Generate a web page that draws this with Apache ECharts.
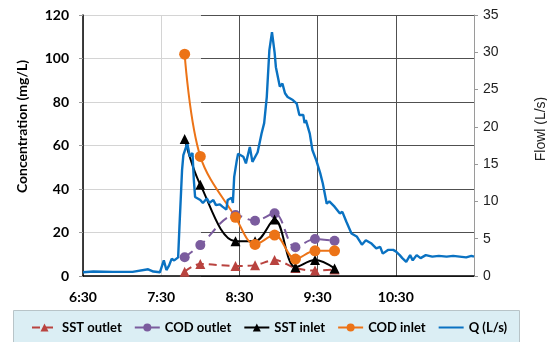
<!DOCTYPE html>
<html><head><meta charset="utf-8">
<script src="https://cdn.jsdelivr.net/npm/echarts@6/dist/echarts.min.js"></script>
<style>html,body{margin:0;padding:0;background:#fff}#c{width:547px;height:342px}</style>
</head><body><div id="c"></div>
<script>
// ---- data ----
const xTickLabels = ['6:30','7:30','8:30','9:30','10:30'];
const concTimes = ['7:48','8:00','8:27','8:42','8:57','9:13','9:28','9:43'];
const sstOutlet = [2, 5.5, 4.6, 5, 7.3, 3.7, 2.5, 3];
const codOutlet = [8.6, 14.2, 28, 25.4, 28.8, 13.2, 17, 16.2];
const sstInlet  = [63, 42, 16, 16, 26, 4, 7.3, 3.5];
const codInlet  = [102, 55, 27, 14.5, 18.8, 7.8, 11.6, 11.6];
const qFlow = [
 ['6:30',0.5],['6:38',0.6],['6:53',0.55],['7:08',0.55],['7:20',0.9],['7:24',0.6],['7:29',0.5],['7:30',0.4],
 ['7:32',2.1],['7:34',0.8],['7:36',1.4],['7:38',2.3],['7:40',2.1],['7:43',2.5],['7:44',6.6],['7:46',14.2],
 ['7:47',16.2],['7:50',17.8],['7:52',16],['7:54',16.5],['7:55',13],['7:56',10.6],['8:00',10.2],['8:02',9.8],
 ['8:05',10.4],['8:07',9.8],['8:10',10.2],['8:12',9.5],['8:15',9.6],['8:17',9.3],['8:20',8.9],['8:21',10.2],
 ['8:24',10.5],['8:25',9.8],['8:26',13.3],['8:28',15.5],['8:29',16.4],['8:33',16],['8:35',15.1],['8:38',17.3],
 ['8:40',15.3],['8:44',16.6],['8:47',19.1],['8:49',20.5],['8:51',24],['8:53',30.3],['8:55',32.7],['8:57',30],
 ['8:58',28],['9:01',25.4],['9:03',25.8],['9:05',24.5],['9:07',24],['9:11',23.6],['9:14',23.1],['9:16',21.6],
 ['9:19',21.6],['9:20',20.5],['9:21',20.9],['9:24',19.1],['9:26',16.9],['9:29',15.5],['9:32',13.8],['9:34',12.4],
 ['9:37',9.7],['9:39',10],['9:43',9.3],['9:47',8.4],['9:49',8.6],['9:52',7.3],['9:56',5.7],['10:00',5.3],
 ['10:04',4.2],['10:07',4.8],['10:11',4.4],['10:15',3.7],['10:18',3.9],['10:20',3.0],['10:24',3.5],['10:28',3.5],
 ['10:30',3.3],['10:33',2.8],['10:35',2.4],['10:38',1.9],['10:41',2.8],['10:43',2.1],['10:46',2.8],['10:49',2.4],
 ['10:53',2.8],['10:58',2.6],['11:03',2.7],['11:09',2.6],['11:14',2.7],['11:19',2.6],['11:24',2.5],['11:28',2.7],
 ['11:30',2.6]
];
// ---- helpers ----
const START = 6*60+30;
function toMin(t){const p=t.split(':');return (+p[0])*60+(+p[1])-START;}
function fmt(v){const m=START+v;const h=Math.floor(m/60);const mm=m%60;return h+':'+(mm<10?'0':'')+mm;}
const pts = arr => arr.map((v,i)=>[toMin(concTimes[i]),v]);

const F = 'Lato, "Open Sans", sans-serif';
const A = '"Liberation Sans", Arial, sans-serif';
const chart = echarts.init(document.getElementById('c'), null, {renderer:'canvas'});
chart.setOption({
  animation:false,
  backgroundColor:'#fff',
  graphic:[{type:'rect',left:13,top:310,shape:{width:506,height:40},
    style:{fill:'#dbeef4',stroke:'#b8c4c8',lineWidth:1},z:-1}],
  grid:[
    {left:83,right:73,top:15,bottom:66,containLabel:false,outerBoundsMode:'none'},
    {left:201,right:73,top:15,bottom:66,containLabel:false,outerBoundsMode:'none'}
  ],
  legend:{
    left:26, top:316, itemWidth:25, itemHeight:10, itemGap:12,
    textStyle:{fontFamily:F,fontWeight:'bold',fontSize:13,color:'#000'},
    data:['SST outlet','COD outlet','SST inlet','COD inlet',
      {name:'Q (L/s)',itemStyle:{opacity:0}}]
  },
  xAxis:[
    {type:'value',gridIndex:0,min:0,max:300,interval:60,
     axisLine:{lineStyle:{color:'#000',width:1.5}},
     axisTick:{show:false},
     axisLabel:{formatter:fmt,fontFamily:F,fontWeight:'bold',fontSize:14,color:'#000',margin:14,
       showMaxLabel:false},
     splitLine:{show:true,lineStyle:{color:['#d4d4d4','#d4d4d4','#505050','#505050','#505050','#505050'],width:1}}},
    {type:'value',gridIndex:1,min:0,max:1,show:false}
  ],
  yAxis:[
    {type:'value',gridIndex:0,min:0,max:120,interval:20,
     name:'Concentration (mg/L)',nameLocation:'middle',nameGap:54,nameRotate:90,
     nameTextStyle:{fontFamily:F,fontWeight:'bold',fontSize:14,color:'#000',padding:[0,0,0,38]},
     axisLine:{show:true,lineStyle:{color:'#000',width:1.5}},
     axisTick:{show:true,length:4,lineStyle:{color:'#999'}},
     axisLabel:{fontFamily:F,fontWeight:'bold',fontSize:14,color:'#000',margin:14},
     splitLine:{show:true,lineStyle:{color:'#d4d4d4',width:1}}},
    {type:'value',gridIndex:0,min:0,max:35,interval:5,position:'right',
     name:'Flowl (L/s)',nameLocation:'middle',nameGap:60,nameRotate:90,
     nameTextStyle:{fontFamily:A,fontSize:14,color:'#222',padding:[0,0,0,33]},
     axisLine:{show:true,lineStyle:{color:'#9a9a9a',width:1}},
     axisTick:{show:true,length:4,lineStyle:{color:'#999'}},
     axisLabel:{fontFamily:A,fontSize:14,color:'#222',margin:9},
     splitLine:{show:false}},
    {type:'value',gridIndex:1,min:0,max:120,interval:20,
     axisLine:{show:false},axisTick:{show:false},axisLabel:{show:false},
     splitLine:{show:true,lineStyle:{color:'#505050',width:1}}}
  ],
  series:[
    {name:'SST outlet',type:'line',xAxisIndex:0,yAxisIndex:0,data:pts(sstOutlet),smooth:0.35,
     symbol:'triangle',symbolSize:10,color:'#b9433f',
     lineStyle:{width:2,type:[8,5],color:'#b9433f'},itemStyle:{color:'#b9433f'}},
    {name:'COD outlet',type:'line',xAxisIndex:0,yAxisIndex:0,data:pts(codOutlet),smooth:0.35,
     symbol:'circle',symbolSize:10,color:'#7b5c9e',
     lineStyle:{width:2,type:[10,6],color:'#7b5c9e'},itemStyle:{color:'#7b5c9e'}},
    {name:'SST inlet',type:'line',xAxisIndex:0,yAxisIndex:0,data:pts(sstInlet),smooth:0.35,
     symbol:'triangle',symbolSize:10,color:'#000',
     lineStyle:{width:2,color:'#000'},itemStyle:{color:'#000'}},
    {name:'COD inlet',type:'line',xAxisIndex:0,yAxisIndex:0,data:pts(codInlet),smooth:0.35,
     symbol:'circle',symbolSize:11,color:'#ec7317',
     lineStyle:{width:2,color:'#ec7317'},itemStyle:{color:'#ec7317'}},
    {name:'Q (L/s)',type:'line',xAxisIndex:0,yAxisIndex:1,data:qFlow.map(d=>[toMin(d[0]),d[1]]),
     showSymbol:false,symbol:'none',color:'#0a72c2',
     lineStyle:{width:2.4,color:'#0a72c2'}}
  ]
});
</script></body></html>
